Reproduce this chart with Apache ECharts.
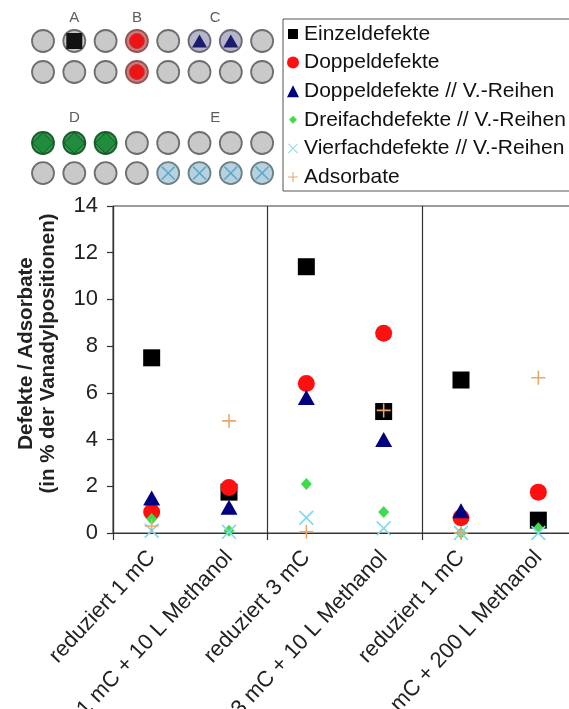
<!DOCTYPE html>
<html>
<head>
<meta charset="utf-8">
<script src="https://cdn.jsdelivr.net/npm/echarts@6/dist/echarts.min.js"></script>
<style>
html,body{margin:0;padding:0;background:#fff;}
#chart{width:569px;height:709px;}
</style>
</head>
<body>
<div id="chart"></div>
<script>
// ---- main chart data ----
const categories = ['reduziert 1 mC', '1 mC + 10 L Methanol', 'reduziert 3 mC', '3 mC + 10 L Methanol', 'reduziert 1 mC', '1 mC + 200 L Methanol'];
const seriesNames = ['Einzeldefekte', 'Doppeldefekte', 'Doppeldefekte // V.-Reihen', 'Dreifachdefekte // V.-Reihen', 'Vierfachdefekte // V.-Reihen', 'Adsorbate'];
const einzel    = [7.5, 1.75, 11.4, 5.2, 6.55, 0.55];
const doppel    = [0.9, 1.95, 6.4, 8.55, 0.65, 1.75];
const doppelV   = [1.5, 1.1, 5.8, 4.0, 0.95, null];
const dreifach  = [0.6, 0.1, 2.1, 0.9, 0.0, 0.2];
const vierfach  = [0.1, 0.05, 0.65, 0.2, 0.0, 0.0];
const adsorbate = [0.3, 4.8, 0.05, 5.25, 0.0, 6.65];
const yTicks = [0, 2, 4, 6, 8, 10, 12, 14];
const groupBoundaries = [0, 2, 4, 6];

// ---- schematic data (column index, row index) ----
const schemeCols = [0, 1, 2, 3, 4, 5, 6, 7];
const schemeRows = [0, 1, 3.29, 4.26];
const schemeA = [[1, 0]];
const schemeB = [[3, 0], [3, 1]];
const schemeC = [[5, 0], [6, 0]];
const schemeD = [[0, 2], [1, 2], [2, 2]];
const schemeE = [[4, 3], [5, 3], [6, 3], [7, 3]];
const schemeLetters = ['A', 'B', 'C', 'D', 'E'];
const letterCols = [1, 3, 5.5, 1, 5.5];
const letterRows = [-0.74, -0.74, -0.74, 2.47, 2.47];

const FONT = 'Liberation Sans, Arial, sans-serif';
const X_PATH = 'path://M0,0.8L0.8,0L5,4.2L9.2,0L10,0.8L5.8,5L10,9.2L9.2,10L5,5.8L0.8,10L0,9.2L4.2,5Z';
const PLUS_PATH = 'path://M4.45,0H5.55V4.45H10V5.55H5.55V10H4.45V5.55H0V4.45H4.45Z';

const colors = ['#000000', '#ff1010', '#000080', '#3ddc4a', '#86d6ee', '#eba66a'];
const symbols = ['rect', 'circle', 'triangle', 'diamond', X_PATH, PLUS_PATH];
const sizes = [17, 17, [17, 15], [11, 12], 15, 14];
const values = [einzel, doppel, doppelV, dreifach, vierfach, adsorbate];

const legendIcons = [
  'path://M0,0M12,12M1,1H11V11H1Z',
  'circle',
  'triangle',
  'path://M0,0M12,12M6,2L10,6L6,10L2,6Z',
  'path://M0,0M12,12M1,1.7L1.7,1L6,5.3L10.3,1L11,1.7L6.7,6L11,10.3L10.3,11L6,6.7L1.7,11L1,10.3L5.3,6Z',
  'path://M0,0M12,12M5.45,1H6.55V5.45H11V6.55H6.55V11H5.45V6.55H1V5.45H5.45Z'
];

const mainSeries = seriesNames.map((n, i) => ({
  name: n,
  type: 'scatter',
  xAxisIndex: 0, yAxisIndex: 0,
  symbol: symbols[i],
  symbolSize: sizes[i],
  itemStyle: { color: colors[i], opacity: 1 },
  data: values[i],
  z: 3 + i
}));

// schematic helpers
function key(c, r) { return c + '_' + r; }
const special = {};
schemeB.forEach(p => special[key(p[0], p[1])] = 'B');
schemeC.forEach(p => special[key(p[0], p[1])] = 'C');
schemeD.forEach(p => special[key(p[0], p[1])] = 'D');
schemeE.forEach(p => special[key(p[0], p[1])] = 'E');
const baseStyles = {
  B: { color: '#d27a7a', borderColor: '#8e5656' },
  C: { color: '#b6b6ca', borderColor: '#6a6a78' },
  D: { color: '#2f9a4c', borderColor: '#1d5a2c' },
  E: { color: '#b7d1dd', borderColor: '#6a818a' }
};
const baseData = [];
schemeRows.forEach((rv, ri) => {
  schemeCols.forEach(c => {
    const s = special[key(c, ri)];
    const item = { value: [c, rv] };
    if (s) item.itemStyle = baseStyles[s];
    baseData.push(item);
  });
});
const toPts = arr => arr.map(p => [p[0], schemeRows[p[1]]]);

const schemeSeries = [
  { name: 'sBase', type: 'scatter', xAxisIndex: 1, yAxisIndex: 1, symbol: 'circle', symbolSize: 22,
    itemStyle: { color: '#c9c9c9', borderColor: '#6e6e6e', borderWidth: 1.8, opacity: 1 }, data: baseData, z: 2 },
  { name: 'sA', type: 'scatter', xAxisIndex: 1, yAxisIndex: 1, symbol: 'rect', symbolSize: 16,
    itemStyle: { color: '#121212', opacity: 1 }, data: toPts(schemeA), z: 3 },
  { name: 'sB', type: 'scatter', xAxisIndex: 1, yAxisIndex: 1, symbol: 'circle', symbolSize: 15,
    itemStyle: { color: '#ec1414', borderColor: '#b33', borderWidth: 0.8, opacity: 1 }, data: toPts(schemeB), z: 3 },
  { name: 'sC', type: 'scatter', xAxisIndex: 1, yAxisIndex: 1, symbol: 'triangle', symbolSize: [15, 13],
    itemStyle: { color: '#1b1b6e', opacity: 1 }, data: toPts(schemeC), z: 3 },
  { name: 'sD', type: 'scatter', xAxisIndex: 1, yAxisIndex: 1, symbol: 'diamond', symbolSize: [21, 21],
    itemStyle: { color: '#1f8c3e', borderColor: '#17552a', borderWidth: 1, opacity: 1 }, data: toPts(schemeD), z: 3 },
  { name: 'sE', type: 'scatter', xAxisIndex: 1, yAxisIndex: 1, symbol: X_PATH, symbolSize: 14,
    itemStyle: { color: '#5ea9cf', opacity: 1 }, data: toPts(schemeE), z: 3 },
  { name: 'sLetters', type: 'scatter', xAxisIndex: 1, yAxisIndex: 1, symbol: 'circle', symbolSize: 0,
    data: schemeLetters.map((l, i) => ({ name: l, value: [letterCols[i], letterRows[i]] })),
    label: { show: true, position: 'inside', formatter: p => p.name, fontSize: 15, color: '#333', fontFamily: FONT },
    z: 3 }
];

const chart = echarts.init(document.getElementById('chart'), null, { renderer: 'canvas' });
chart.setOption({
  animation: false,
  backgroundColor: '#fff',
  grid: [
    { left: 113, top: 206, width: 464, height: 327, show: true, borderColor: '#3a3a3a', borderWidth: 1,
      backgroundColor: 'transparent', outerBoundsMode: 'none', containLabel: false },
    { left: 27.35, top: 10, width: 250.4, height: 186, outerBoundsMode: 'none', containLabel: false }
  ],
  legend: {
    orient: 'vertical',
    left: 283, top: 19,
    padding: [4, 12, 3, 4],
    itemWidth: 12, itemHeight: 12, itemGap: 6.6,
    borderColor: '#555', borderWidth: 1, backgroundColor: '#fff',
    textStyle: { fontSize: 21, lineHeight: 22, color: '#111', fontFamily: FONT },
    data: seriesNames.map((n, i) => ({ name: n, icon: legendIcons[i] }))
  },
  xAxis: [
    {
      type: 'category', gridIndex: 0, position: 'bottom', data: categories, boundaryGap: true,
      axisLine: { show: true, lineStyle: { color: '#333', width: 1.2 } },
      axisTick: { show: false },
      splitLine: { show: false },
      axisLabel: { interval: 0, rotate: 47, margin: 21, fontSize: 22, color: '#222', fontFamily: FONT }
    },
    { type: 'value', gridIndex: 1, min: -0.5, max: 7.5, show: false },
    {
      type: 'value', gridIndex: 0, position: 'bottom', min: 0, max: 6, interval: 2,
      axisLine: { show: false },
      axisLabel: { show: false },
      axisTick: { show: true, length: 7, customValues: groupBoundaries, lineStyle: { color: '#333', width: 1.2 } },
      splitLine: { show: true, lineStyle: { color: '#333', width: 1.2 } }
    }
  ],
  yAxis: [
    {
      type: 'value', gridIndex: 0, min: 0, max: 14, interval: 2,
      name: 'Defekte / Adsorbate\n(in % der Vanadylpositionen)',
      nameLocation: 'middle', nameGap: 54, nameRotate: 90,
      nameTextStyle: { fontSize: 20.5, fontWeight: 'bold', lineHeight: 22, color: '#222', fontFamily: FONT, padding: [0, 0, 0, 32] },
      axisLine: { show: true, lineStyle: { color: '#333', width: 1.2 } },
      axisTick: { show: true, inside: false, length: 6, lineStyle: { color: '#333', width: 1.2 } },
      splitLine: { show: false },
      axisLabel: { fontSize: 22, color: '#222', margin: 15, fontFamily: FONT, customValues: yTicks }
    },
    { type: 'value', gridIndex: 1, min: -1, max: 5, inverse: true, show: false }
  ],
  series: mainSeries.concat(schemeSeries)
});
</script>
</body>
</html>
